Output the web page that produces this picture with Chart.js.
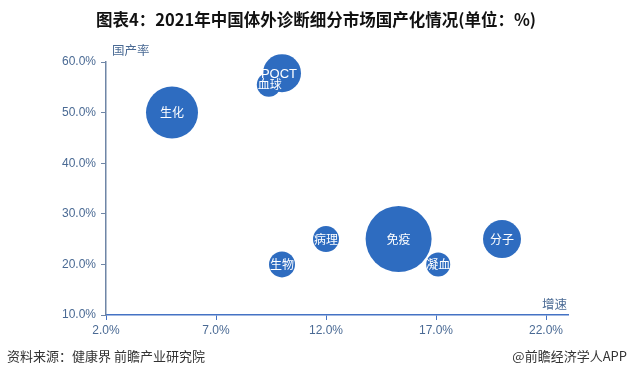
<!DOCTYPE html>
<html><head><meta charset="utf-8">
<script src="https://cdn.jsdelivr.net/npm/chart.js@4"></script>
<style>html,body{margin:0;padding:0;background:#fff}#wrap{width:632px;height:377px;position:relative}</style>
</head><body><div id="wrap"><canvas id="c" width="632" height="377"></canvas></div>
<script>
const categories = ['生化','POCT','血球','生物','病理','免疫','凝血','分子'];
const growthRate = [5.0, 10.0, 9.4, 10.0, 12.0, 15.3, 17.1, 20.0];
const domesticRate = [50, 57.8, 55.5, 20, 25, 25, 20, 25];
const bubbleSize = [26, 19, 12, 13, 13, 33, 12, 19];
const xTicks = [2, 7, 12, 17, 22];
const yTicks = [10, 20, 30, 40, 50, 60];

const BLUE = '#2e6cc0';
const CJK = '"Noto Sans CJK SC", "Noto Sans", sans-serif';

const textPlugin = {
  id: 'texts',
  afterDatasetsDraw(chart) {
    const ctx = chart.ctx;
    const meta = chart.getDatasetMeta(0);
    ctx.save();
    ctx.fillStyle = '#ffffff';
    ctx.textAlign = 'center';
    ctx.textBaseline = 'middle';
    meta.data.forEach((el, i) => {
      const lbl = categories[i];
      let dx = 0, dy = 0;
      if (lbl === 'POCT') { ctx.font = '13px "Liberation Sans Narrow", "Liberation Sans", Arial, sans-serif'; dx = -3; dy = 1; }
      else { ctx.font = '12px ' + CJK; }
      if (lbl === '血球') { dx = 1; dy = 0; }
      ctx.fillText(lbl, el.x + dx, el.y + dy);
    });
    ctx.restore();
  },
  afterDraw(chart) {
    const ctx = chart.ctx;
    ctx.save();
    ctx.fillStyle = '#111';
    ctx.textAlign = 'center';
    ctx.textBaseline = 'middle';
    ctx.font = 'bold 16.5px ' + CJK;
    ctx.fillText('图表4：2021年中国体外诊断细分市场国产化情况(单位：%)', 316, 20);
    ctx.fillStyle = '#4a6a94';
    ctx.font = '12.5px ' + CJK;
    ctx.textAlign = 'left';
    ctx.fillText('国产率', 112, 50);
    ctx.fillText('增速', 542, 304);
    ctx.fillStyle = '#333';
    ctx.font = '13px ' + CJK;
    ctx.fillText('资料来源：健康界 前瞻产业研究院', 7, 356);
    ctx.textAlign = 'right';
    ctx.fillText('@前瞻经济学人APP', 627, 356);
    ctx.restore();
  }
};

new Chart(document.getElementById('c'), {
  type: 'bubble',
  data: {
    datasets: [{
      data: categories.map((c, i) => ({x: growthRate[i], y: domesticRate[i], r: bubbleSize[i]})),
      backgroundColor: BLUE,
      borderColor: BLUE,
      borderWidth: 0,
      hoverRadius: 0,
      clip: false
    }]
  },
  options: {
    responsive: false,
    devicePixelRatio: 1,
    animation: false,
    events: [],
    layout: {padding: {top: 62, right: 64, bottom: 22, left: 0}},
    plugins: {legend: {display: false}, tooltip: {enabled: false}, title: {display: false}},
    scales: {
      x: {
        type: 'linear', min: 2, max: 23,
        afterBuildTicks: s => { s.ticks = xTicks.map(v => ({value: v})); },
        afterFit: s => { s.height = 40; },
        ticks: {callback: v => v.toFixed(1) + '%', color: '#4a6a94', font: {family: '"Liberation Sans", Arial, sans-serif', size: 12}, padding: 3, maxRotation: 0},
        grid: {drawOnChartArea: false, drawTicks: true, tickLength: 5, color: '#4472c4'},
        border: {color: '#4472c4', width: 1.5}
      },
      y: {
        type: 'linear', min: 10, max: 60,
        afterBuildTicks: s => { s.ticks = yTicks.map(v => ({value: v})); },
        afterFit: s => { s.width = 106; },
        ticks: {callback: v => v.toFixed(1) + '%', color: '#4a6a94', font: {family: '"Liberation Sans", Arial, sans-serif', size: 12}, padding: 5},
        grid: {drawOnChartArea: false, drawTicks: true, tickLength: 5, color: '#6f86a6'},
        border: {color: '#6f86a6', width: 1.5}
      }
    }
  },
  plugins: [textPlugin]
});
</script>
</body></html>
